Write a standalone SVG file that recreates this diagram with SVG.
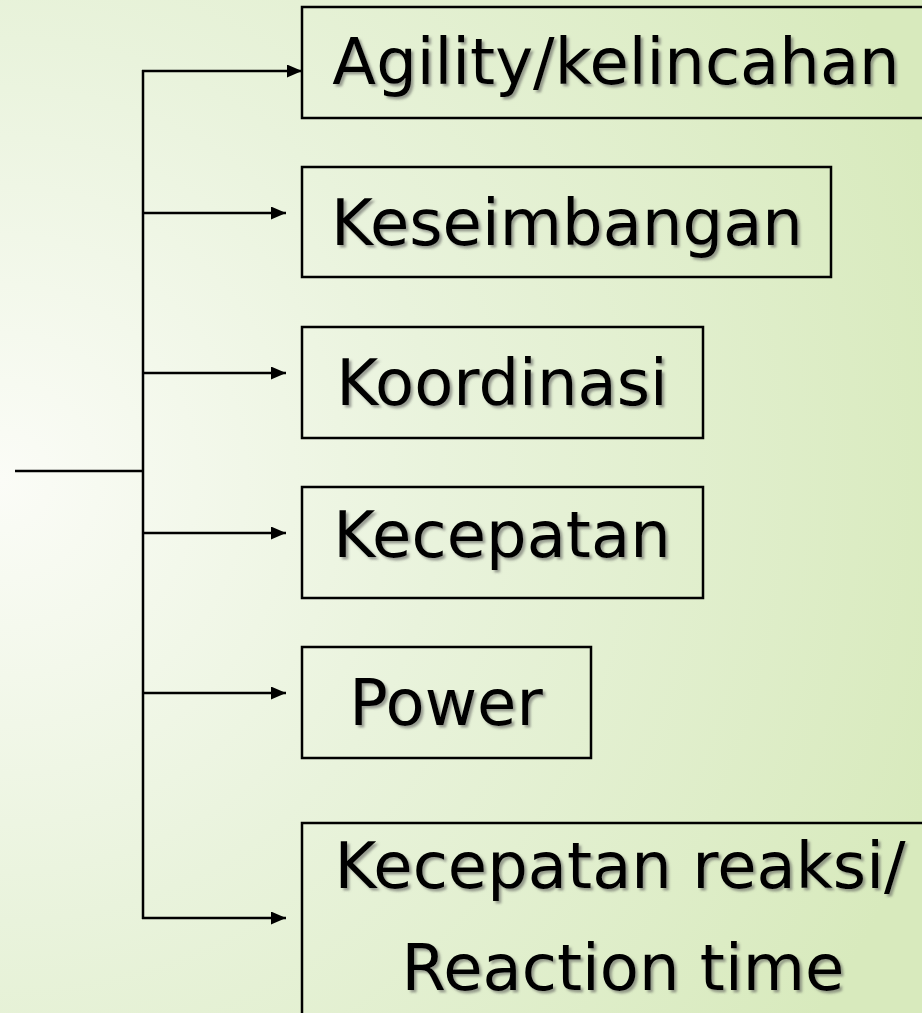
<svg xmlns="http://www.w3.org/2000/svg" width="922" height="1013" viewBox="0 0 922 1013">
<defs>
<radialGradient id="bg" cx="0" cy="480" r="980" gradientUnits="userSpaceOnUse">
<stop offset="0" stop-color="#fbfcf7"/>
<stop offset="0.45" stop-color="#e9f3dc"/>
<stop offset="1" stop-color="#d8eabd"/>
</radialGradient>
<filter id="sh" x="-5%" y="-20%" width="110%" height="140%">
<feDropShadow dx="2.5" dy="2.5" stdDeviation="1.2" flood-color="#555" flood-opacity="0.55"/>
</filter>
<marker id="ah" viewBox="0 0 15 13" refX="15" refY="6.5" markerWidth="15" markerHeight="13" markerUnits="userSpaceOnUse" orient="auto">
<path d="M0,0 L15,6.5 L0,13 Z" fill="#000"/>
</marker>
</defs>
<style>
.box{fill:none;stroke:#000;stroke-width:2.5}
.lbl{font-family:"DejaVu Sans","Verdana",sans-serif;font-size:64px;fill:#000;text-anchor:middle;filter:url(#sh)}
.ln{fill:none;stroke:#000;stroke-width:2.5}
.ar{fill:none;stroke:#000;stroke-width:2.5;marker-end:url(#ah)}
</style>
<rect x="0" y="0" width="922" height="1013" fill="url(#bg)"/>
<g id="connectors">
<line class="ln" x1="15" y1="471" x2="143" y2="471"/>
<line class="ln" x1="143" y1="70" x2="143" y2="919"/>
<line class="ar" x1="142" y1="71" x2="302" y2="71"/>
<line class="ar" x1="142" y1="213" x2="286" y2="213"/>
<line class="ar" x1="142" y1="373" x2="286" y2="373"/>
<line class="ar" x1="142" y1="533" x2="286" y2="533"/>
<line class="ar" x1="142" y1="693" x2="286" y2="693"/>
<line class="ar" x1="142" y1="918" x2="286" y2="918"/>
</g>
<g id="node-agility">
<rect class="box" x="302" y="7" width="640" height="111"/>
<text class="lbl" x="616" y="84">Agility/kelincahan</text>
</g>
<g id="node-keseimbangan">
<rect class="box" x="302" y="167" width="529" height="110"/>
<text class="lbl" x="567" y="245">Keseimbangan</text>
</g>
<g id="node-koordinasi">
<rect class="box" x="302" y="327" width="401" height="111"/>
<text class="lbl" x="502" y="405">Koordinasi</text>
</g>
<g id="node-kecepatan">
<rect class="box" x="302" y="487" width="401" height="111"/>
<text class="lbl" x="502" y="557">Kecepatan</text>
</g>
<g id="node-power">
<rect class="box" x="302" y="647" width="289" height="111"/>
<text class="lbl" x="446" y="725">Power</text>
</g>
<g id="node-reaksi">
<rect class="box" x="302" y="823" width="640" height="220"/>
<text class="lbl" x="620" y="888">Kecepatan reaksi/</text>
<text class="lbl" x="623" y="990">Reaction time</text>
</g>
</svg>
